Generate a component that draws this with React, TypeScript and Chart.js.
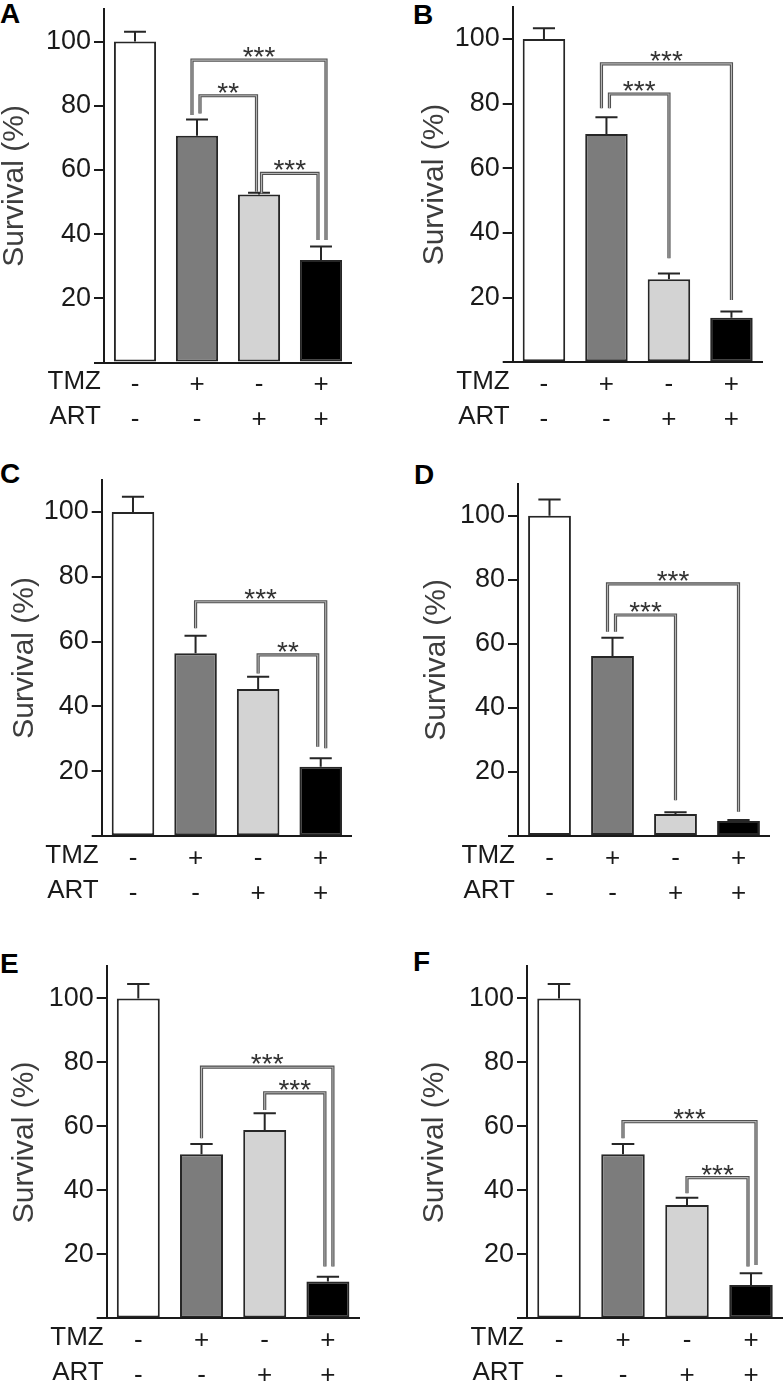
import React, { useEffect, useRef } from 'react';
import { Chart, registerables } from 'chart.js';

Chart.register(...registerables);
Chart.defaults.font.family = "'Liberation Sans', Arial, Helvetica, sans-serif";

// ---------- data ----------
const categories = ['Control', 'TMZ', 'ART', 'TMZ + ART'];
const tmzSigns = ['-', '+', '-', '+'];
const artSigns = ['-', '-', '+', '+'];
const rowLabels = ['TMZ', 'ART'];
const yAxisTitle = 'Survival (%)';
const panelLetters = ['A', 'B', 'C', 'D', 'E', 'F'];

const survivalA = [100, 70.6, 52.3, 31.9];
const errorA = [3.0, 5.1, 0.6, 4.2];
const survivalB = [100, 70.6, 25.7, 13.8];
const errorB = [3.3, 5.2, 1.8, 1.9];
const survivalC = [100, 56.4, 45.4, 21.4];
const errorC = [4.7, 5.4, 3.8, 2.6];
const survivalD = [100, 56.2, 6.9, 4.7];
const errorD = [5.1, 5.7, 0.5, 0.3];
const survivalE = [100, 51.3, 58.9, 11.5];
const errorE = [4.5, 3.2, 5.2, 1.5];
const survivalF = [100, 51.3, 35.4, 10.4];
const errorF = [4.5, 3.2, 2.3, 3.7];

// significance brackets: from bar, to bar, bracket level, leg end values, label
const bracketsA = [
  { from: 1, to: 3, level: 94.2, fromEnd: 77.1, toEnd: 38.2, label: '***' },
  { from: 1, to: 2, level: 83.1, fromEnd: 77.6, toEnd: 53.2, label: '**' },
  { from: 2, to: 3, level: 58.9, fromEnd: 52.7, toEnd: 38.2, label: '***' },
];
const bracketsB = [
  { from: 1, to: 3, level: 92.3, fromEnd: 78.6, toEnd: 19.3, label: '***' },
  { from: 1, to: 2, level: 83.0, fromEnd: 78.6, toEnd: 32.2, label: '***' },
];
const bracketsC = [
  { from: 1, to: 3, level: 72.3, fromEnd: 64.1, toEnd: 27.1, label: '***' },
  { from: 2, to: 3, level: 55.9, fromEnd: 50.2, toEnd: 27.6, label: '**' },
];
const bracketsD = [
  { from: 1, to: 3, level: 78.7, fromEnd: 63.8, toEnd: 7.6, label: '***' },
  { from: 1, to: 2, level: 69.0, fromEnd: 63.8, toEnd: 11.2, label: '***' },
];
const bracketsE = [
  { from: 1, to: 3, level: 78.5, fromEnd: 56.3, toEnd: 16.2, label: '***' },
  { from: 2, to: 3, level: 70.5, fromEnd: 65.1, toEnd: 16.2, label: '***' },
];
const bracketsF = [
  { from: 1, to: 3, level: 61.5, fromEnd: 56.3, toEnd: 16.7, label: '***' },
  { from: 2, to: 3, level: 44.0, fromEnd: 39.1, toEnd: 16.2, label: '***' },
];

// ---------- styles / layout ----------
const barColors = ['#ffffff', '#7c7c7c', '#d3d3d3', '#000000'];
const INK = '#1a1a1a';
const TICK_FONT = 26;
const Y_TICK_FONT = 27;
const ROW_LINE = 35;
const ROW_PAD = -3;
const ROW_LABEL_OFFSET = 19.5;

const LAYOUT = [
  { cx: 0, cy: 0, cw: 352, ch: 460, left: 104, top: 9.4, right: 352, bottom: 362.5, lx: 0, ly: 0 },
  { cx: 420, cy: 0, cw: 343, ch: 460, left: 512.7, top: 6.7, right: 762.7, bottom: 362.3, lx: 413, ly: 1 },
  { cx: 10, cy: 460, cw: 342, ch: 460, left: 101.7, top: 479.5, right: 352, bottom: 836.2, lx: 0, ly: 460 },
  { cx: 422, cy: 460, cw: 348, ch: 460, left: 518, top: 483.7, right: 770, bottom: 836, lx: 414, ly: 461 },
  { cx: 10, cy: 920, cw: 350, ch: 465, left: 106.7, top: 966.4, right: 359.5, bottom: 1318.4, lx: 0, ly: 950 },
  { cx: 420, cy: 920, cw: 363, ch: 465, left: 527, top: 966.4, right: 783, bottom: 1318.4, lx: 413, ly: 948 },
];

const PANELS = [
  { values: survivalA, errors: errorA, brackets: bracketsA },
  { values: survivalB, errors: errorB, brackets: bracketsB },
  { values: survivalC, errors: errorC, brackets: bracketsC },
  { values: survivalD, errors: errorD, brackets: bracketsD },
  { values: survivalE, errors: errorE, brackets: bracketsE },
  { values: survivalF, errors: errorF, brackets: bracketsF },
];

type Bracket = { from: number; to: number; level: number; fromEnd: number; toEnd: number; label: string };

function legOffsets(brackets: Bracket[]) {
  return brackets.map((b, k) => {
    const off = (bar: number, side: 'L' | 'R') => {
      const others = brackets.filter((o, j) => j !== k && (o.from === bar || o.to === bar));
      if (!others.length) return 0;
      const o = others[0];
      const oSide = o.from === bar ? 'L' : 'R';
      if (oSide !== side) return side === 'L' ? 2.5 : -2.5;
      const outer = b.level > o.level;
      if (side === 'L') return outer ? -5 : 3;
      return outer ? 5 : -3;
    };
    return [off(b.from, 'L'), off(b.to, 'R')];
  });
}

function makeAnnotPlugin(values: number[], errors: number[], brackets: Bracket[]) {
  const offsets = legOffsets(brackets);
  return {
    id: 'annot',
    afterDatasetsDraw(chart: any) {
      const { ctx, chartArea } = chart;
      const meta = chart.getDatasetMeta(0);
      const y = chart.scales.y;
      ctx.save();
      // error bars (upper only)
      ctx.strokeStyle = '#262626';
      ctx.lineWidth = 2;
      meta.data.forEach((bar: any, i: number) => {
        const { x, width } = bar.getProps(['x', 'width'], true);
        const yTop = y.getPixelForValue(values[i]);
        const yCap = y.getPixelForValue(values[i] + errors[i]);
        ctx.beginPath();
        ctx.moveTo(x, yTop);
        ctx.lineTo(x, yCap);
        ctx.moveTo(x - width * 0.26, yCap);
        ctx.lineTo(x + width * 0.26, yCap);
        ctx.stroke();
      });
      // brackets
      brackets.forEach((b, k) => {
        const x1 = meta.data[b.from].x + offsets[k][0];
        const x2 = meta.data[b.to].x + offsets[k][1];
        const yl = y.getPixelForValue(b.level);
        const y1 = y.getPixelForValue(b.fromEnd);
        const y2 = y.getPixelForValue(b.toEnd);
        const path = () => {
          ctx.beginPath();
          ctx.moveTo(x1, y1);
          ctx.lineTo(x1, yl);
          ctx.lineTo(x2, yl);
          ctx.lineTo(x2, y2);
        };
        ctx.lineJoin = 'miter';
        path();
        ctx.strokeStyle = '#505050';
        ctx.lineWidth = 3.2;
        ctx.stroke();
        path();
        ctx.strokeStyle = '#b4b4b4';
        ctx.lineWidth = 1.1;
        ctx.stroke();
        ctx.fillStyle = '#333333';
        ctx.font = "28px 'Liberation Sans', Arial, sans-serif";
        ctx.textAlign = 'center';
        ctx.textBaseline = 'alphabetic';
        ctx.fillText(b.label, (x1 + x2) / 2, yl + 6);
      });
      // row labels TMZ / ART
      ctx.fillStyle = INK;
      ctx.font = `${TICK_FONT}px 'Liberation Sans', Arial, sans-serif`;
      ctx.textAlign = 'right';
      ctx.textBaseline = 'middle';
      rowLabels.forEach((t, r) => {
        ctx.fillText(t, chartArea.left - 3, chartArea.bottom + ROW_LABEL_OFFSET + r * ROW_LINE);
      });
      ctx.restore();
    },
  };
}

function Panel({ index }: { index: number }) {
  const ref = useRef<HTMLCanvasElement>(null);
  const L = LAYOUT[index];
  const P = PANELS[index];
  useEffect(() => {
    if (!ref.current) return;
    const yWidth = L.left - L.cx;
    const xHeight = L.cy + L.ch - L.bottom;
    const chart = new Chart(ref.current, {
      type: 'bar',
      data: {
        labels: categories,
        datasets: [
          {
            data: P.values,
            backgroundColor: barColors,
            borderColor: '#262626',
            borderWidth: 2,
            borderSkipped: false,
            barPercentage: 0.68,
            categoryPercentage: 1,
          },
        ],
      },
      options: {
        responsive: false,
        animation: false,
        events: [],
        layout: { padding: { top: L.top - L.cy, left: 0, right: L.cx + L.cw - L.right, bottom: 0 } },
        plugins: { legend: { display: false }, tooltip: { enabled: false } },
        scales: {
          x: {
            offset: true,
            grid: { display: false },
            border: { display: true, color: INK, width: 2 },
            ticks: {
              color: INK,
              padding: ROW_PAD,
              autoSkip: false,
              maxRotation: 0,
              font: { size: TICK_FONT, lineHeight: ROW_LINE / TICK_FONT },
              callback: (_v: any, i: number) => [tmzSigns[i], artSigns[i]],
            },
            afterFit: (s: any) => {
              s.height = xHeight;
              s.paddingLeft = 0;
              s.paddingRight = 0;
              s.paddingTop = 0;
              s.paddingBottom = 0;
            },
          },
          y: {
            min: 0,
            max: 110,
            grid: { display: true, drawOnChartArea: false, drawTicks: true, tickLength: 10, color: INK, lineWidth: 2 },
            border: { display: true, color: INK, width: 2 },
            ticks: {
              stepSize: 20,
              includeBounds: false,
              color: INK,
              padding: 3,
              font: { size: Y_TICK_FONT },
              callback: (v: any) => (v === 0 ? '' : String(v)),
            },
            title: {
              display: true,
              text: yAxisTitle,
              color: '#3d3d3d',
              font: { size: 30, lineHeight: 1 },
              padding: { top: 0, bottom: 0 },
            },
            afterFit: (s: any) => {
              s.width = yWidth;
              s.paddingLeft = 0;
              s.paddingRight = 0;
              s.paddingTop = 0;
              s.paddingBottom = 0;
            },
          },
        },
      },
      plugins: [makeAnnotPlugin(P.values, P.errors, P.brackets)],
    } as any);
    return () => chart.destroy();
  }, []);
  return (
    <canvas
      ref={ref}
      width={L.cw}
      height={L.ch}
      style={{ position: 'absolute', left: L.cx, top: L.cy, width: L.cw, height: L.ch }}
    />
  );
}

export default function App() {
  return (
    <div style={{ position: 'absolute', left: 0, top: 0, width: 783, height: 1385, background: '#fff', overflow: 'hidden' }}>
      {LAYOUT.map((L, i) => (
        <div
          key={'l' + i}
          style={{
            position: 'absolute',
            left: L.lx,
            top: L.ly,
            fontFamily: "'Liberation Sans', Arial, sans-serif",
            fontWeight: 'bold',
            fontSize: 28,
            lineHeight: '28px',
            color: '#000',
          }}
        >
          {panelLetters[i]}
        </div>
      ))}
      {LAYOUT.map((_L, i) => (
        <Panel key={'p' + i} index={i} />
      ))}
    </div>
  );
}
